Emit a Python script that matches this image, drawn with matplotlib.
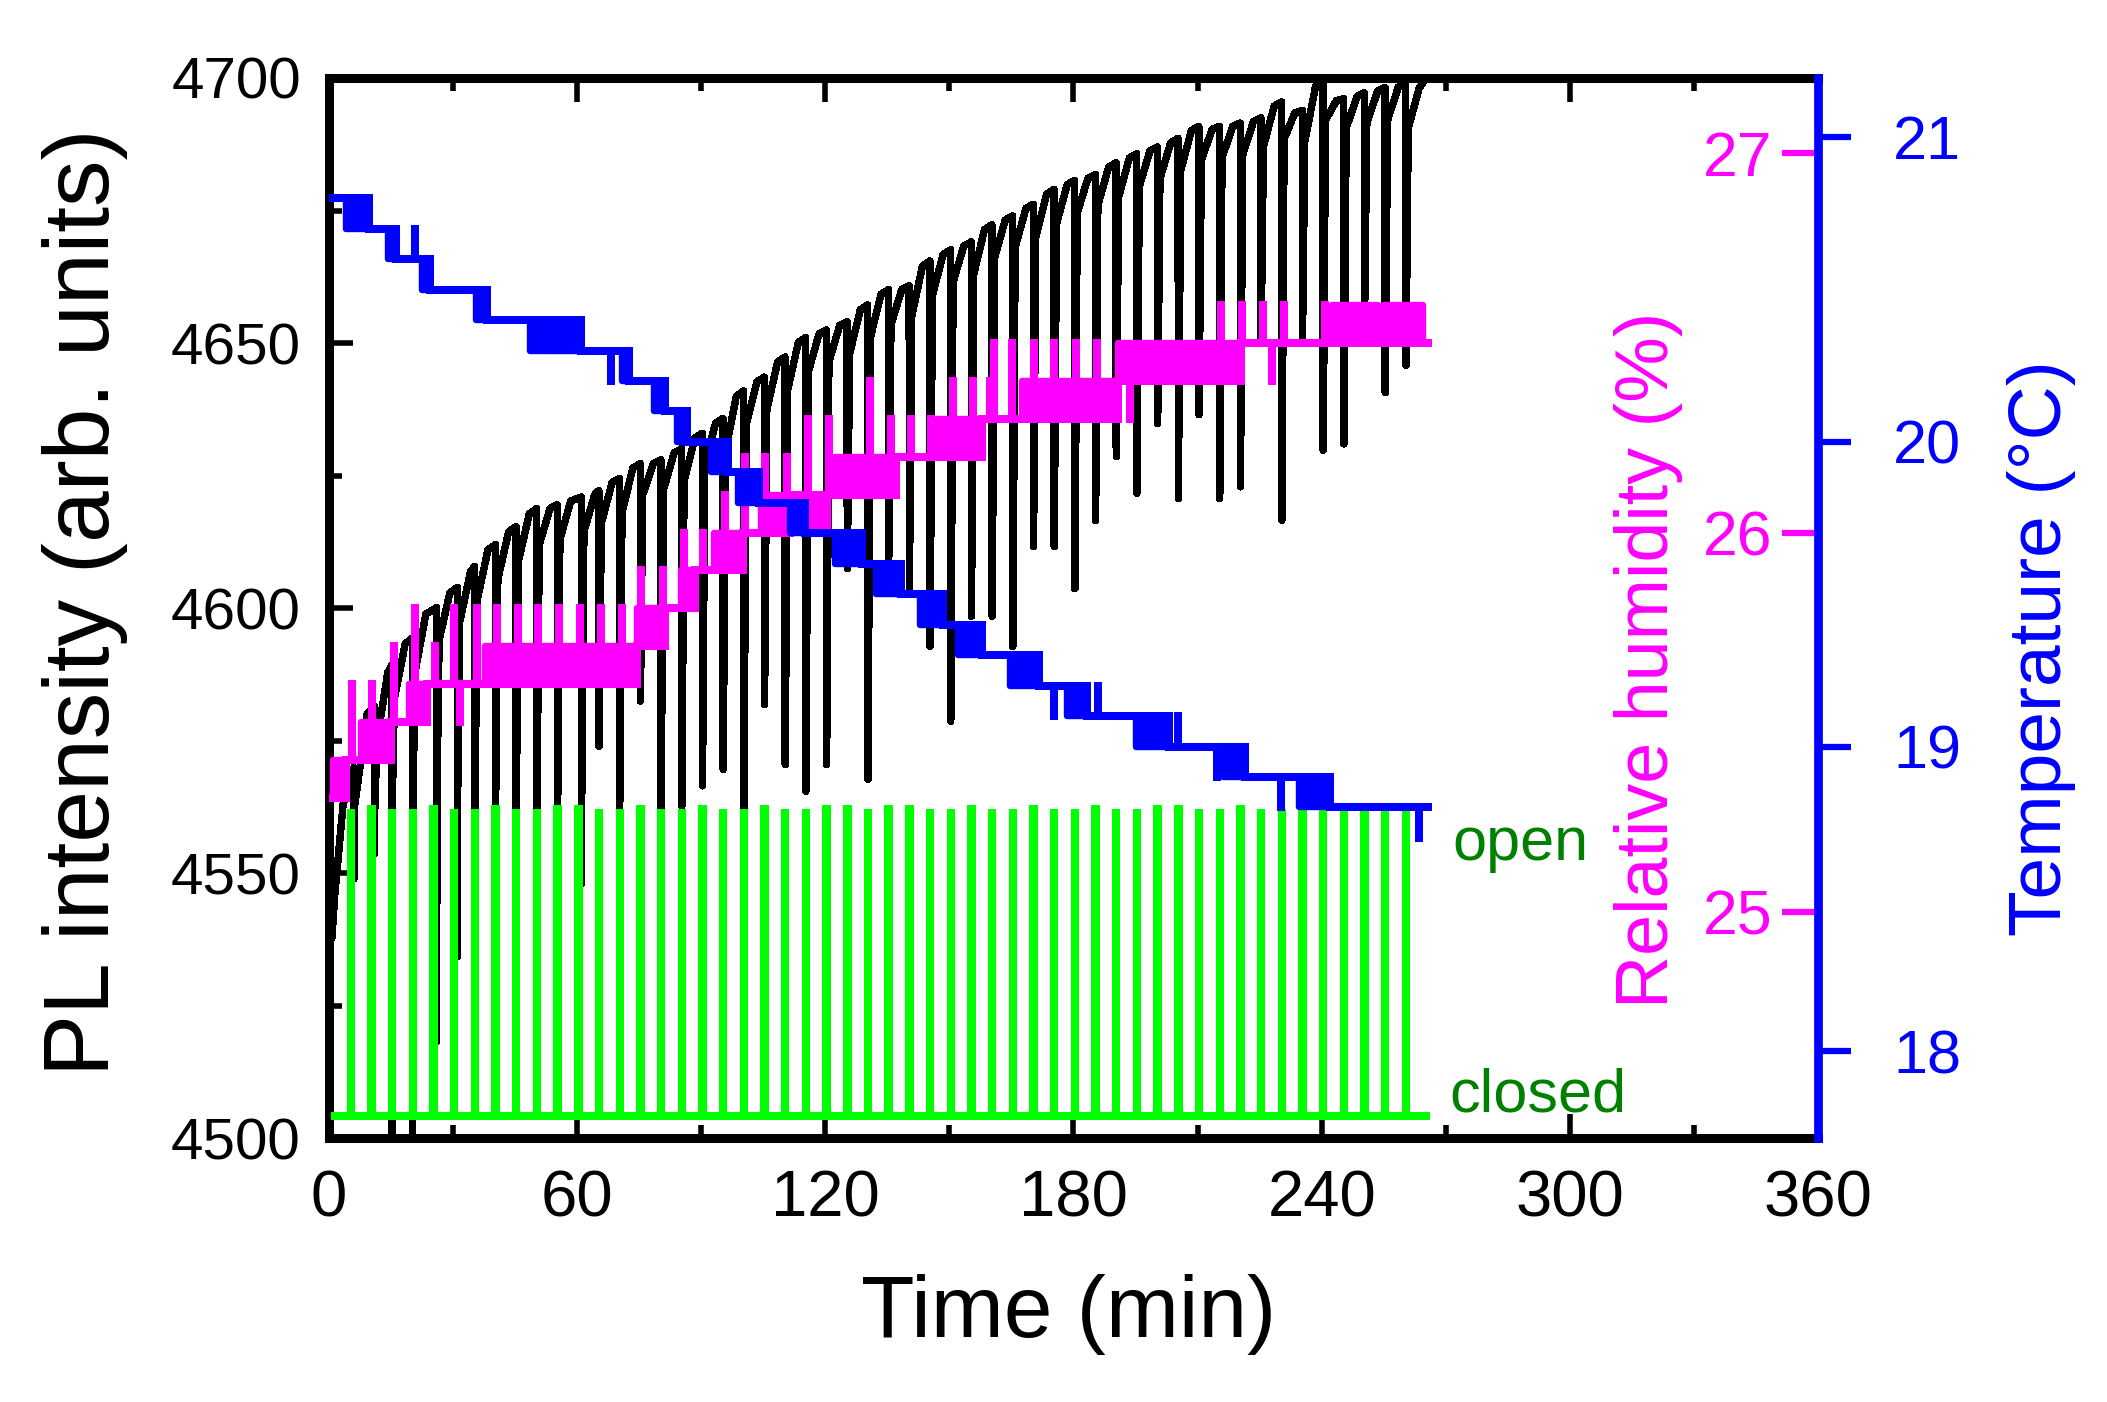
import matplotlib
matplotlib.use("Agg")
import matplotlib.pyplot as plt
from matplotlib.ticker import MultipleLocator, FixedLocator

plt.rcParams['font.family'] = ['Liberation Sans', 'DejaVu Sans']

# ------------------------------------------------------------------ data
# shutter (green): opening instants (min) and span of the record
shutter_open_min = [5.3, 10.3, 15.3, 20.3, 25.3, 30.3, 35.3, 40.3, 45.3, 50.3,
                    55.3, 60.3, 65.3, 70.3, 75.3, 80.3, 85.3, 90.3, 95.3, 100.3,
                    105.3, 110.3, 115.3, 120.3, 125.3, 130.3, 135.3, 140.3, 145.3, 150.3,
                    155.3, 160.3, 165.3, 170.3, 175.3, 180.3, 185.3, 190.3, 195.3, 200.3,
                    205.3, 210.3, 215.3, 220.3, 225.3, 230.3, 235.3, 240.3, 245.3, 250.3,
                    255.3, 260.3]
shutter_span_min = [1.5, 265.3]

# PL intensity (black): for each shutter event the value just before the dip,
# the bottom of the dip, the value right after it and the value ~3 min later
pl_dip_min = [6.1, 11.1, 15.3, 20.3, 26.1, 31.1, 35.3, 40.3, 45.3, 50.3,
              55.3, 61.1, 65.3, 70.3, 75.3, 80.3, 85.3, 90.3, 95.3, 100.3,
              105.3, 110.3, 115.3, 120.3, 125.3, 130.3, 135.3, 140.3, 145.3, 150.3,
              155.3, 160.3, 165.3, 170.3, 175.3, 180.3, 185.3, 190.3, 195.3, 200.3,
              205.3, 210.3, 215.3, 220.3, 225.3, 230.3, 235.3, 240.3, 245.3, 250.3,
              255.3, 260.3]
pl_peak = [4570.0, 4581.5, 4589.3, 4594.4, 4600.1, 4603.9, 4607.9, 4612.0, 4615.4, 4618.8,
           4619.5, 4621.0, 4622.2, 4624.5, 4627.3, 4628.0, 4630.1, 4633.0, 4635.8, 4641.0,
           4643.6, 4647.4, 4651.1, 4652.5, 4654.0, 4657.2, 4660.1, 4660.8, 4665.5, 4667.6,
           4669.1, 4672.3, 4674.0, 4676.2, 4679.0, 4680.7, 4681.8, 4684.0, 4685.7, 4687.0,
           4688.6, 4690.9, 4690.9, 4691.5, 4692.5, 4695.5, 4693.9, 4699.5, 4696.1, 4697.2,
           4698.2, 4699.0]
pl_dip = [4549.0, 4553.7, 4495.0, 4495.0, 4518.3, 4534.3, 4562.0, 4562.0, 4562.0, 4562.0,
          4562.0, 4548.0, 4574.0, 4562.0, 4582.5, 4562.0, 4562.7, 4566.5, 4569.6, 4561.5,
          4581.8, 4570.5, 4565.5, 4570.5, 4607.5, 4567.7, 4608.2, 4603.5, 4592.8, 4578.7,
          4598.5, 4598.5, 4592.8, 4611.6, 4611.6, 4603.7, 4616.6, 4628.6, 4621.7, 4634.8,
          4620.7, 4636.5, 4620.7, 4622.9, 4650.5, 4616.6, 4650.8, 4629.8, 4631.0, 4655.0,
          4640.7, 4645.8]
pl_after = [4565.0, 4575.0, 4583.0, 4588.0, 4594.0, 4597.5, 4601.5, 4605.5, 4609.0, 4612.0,
            4613.0, 4614.5, 4616.0, 4618.0, 4621.4, 4622.3, 4624.0, 4627.0, 4629.5, 4634.5,
            4637.5, 4641.0, 4644.5, 4646.5, 4648.0, 4651.0, 4653.5, 4655.0, 4659.0, 4661.5,
            4663.0, 4666.0, 4668.0, 4670.0, 4672.5, 4674.5, 4676.0, 4677.5, 4679.5, 4681.0,
            4682.5, 4684.5, 4685.0, 4685.5, 4687.0, 4688.5, 4688.0, 4692.0, 4690.5, 4691.5,
            4692.0, 4690.5]
pl_recover = [4580.0, 4587.9, 4593.3, 4598.9, 4602.9, 4606.9, 4611.0, 4614.4, 4617.8, 4618.8,
              4620.2, 4621.4, 4623.7, 4626.4, 4627.3, 4629.3, 4632.1, 4634.9, 4639.9, 4642.7,
              4646.4, 4650.1, 4651.7, 4653.3, 4656.3, 4659.2, 4660.1, 4664.5, 4666.7, 4668.3,
              4671.4, 4673.2, 4675.4, 4678.1, 4679.9, 4681.1, 4683.2, 4684.9, 4686.3, 4687.8,
              4690.1, 4690.3, 4690.9, 4691.8, 4694.7, 4693.4, 4698.4, 4695.7, 4696.5, 4697.5,
              4698.3, 4698.0]
pl_start_min = [0.8, 1.5, 3.5]
pl_start = [4538.0, 4546.0, 4563.0]
pl_end_min = [266.0]
pl_end = [4701.0]

# relative humidity (magenta, %)
rh_step_min = [1.1, 4.1, 15.0, 23.7, 74.6, 81.4, 88.5, 100.2, 111.4, 137.2, 158.0, 190.8, 220.6, 265.7]
rh_step_val = [25.3, 25.4, 25.5, 25.6, 25.7, 25.8, 25.9, 26.0, 26.1, 26.2, 26.3, 26.4, 26.5, 26.5]
rh_blk_start = [1.1, 7.8, 19.4, 37.8, 50.0, 74.6, 85.1, 93.2, 104.6, 115.1, 122.3, 147.0, 167.5, 190.8, 242.6, 255.0]
rh_blk_end = [4.1, 15.0, 23.7, 49.2, 74.6, 81.4, 88.5, 100.2, 111.4, 120.7, 137.2, 158.0, 190.8, 220.6, 253.5, 264.4]
rh_blk_lo = [25.3, 25.4, 25.5, 25.6, 25.6, 25.7, 25.8, 25.9, 26.0, 26.0, 26.1, 26.2, 26.3, 26.4, 26.5, 26.5]
rh_blk_hi = [25.4, 25.5, 25.6, 25.7, 25.7, 25.8, 25.9, 26.0, 26.1, 26.1, 26.2, 26.3, 26.4, 26.5, 26.6, 26.6]
rh_spk_min = [5.6, 10.5, 15.7, 20.9, 25.7, 30.3, 31.7, 35.8, 40.7, 45.7, 50.6, 55.7, 60.8, 65.8,
              70.8, 75.6, 80.7, 85.8, 90.5, 95.9, 100.7, 105.4, 110.7, 115.9, 120.9, 130.8,
              135.8, 140.7, 145.6, 150.8, 155.8, 159.8, 160.9, 165.2, 170.4, 175.4, 180.6,
              185.7, 193.7, 215.6, 220.7, 225.8, 228.0, 230.9, 240.8]
rh_spk_from = [25.4, 25.4, 25.5, 25.5, 25.6, 25.6, 25.6, 25.6, 25.7, 25.7, 25.7, 25.7, 25.7, 25.7,
               25.7, 25.8, 25.8, 25.9, 25.9, 26.0, 26.0, 26.1, 26.1, 26.1, 26.1, 26.2,
               26.2, 26.2, 26.2, 26.3, 26.3, 26.3, 26.3, 26.3, 26.4, 26.4, 26.4,
               26.4, 26.4, 26.5, 26.5, 26.5, 26.5, 26.5, 26.5]
rh_spk_to = [25.6, 25.6, 25.7, 25.8, 25.7, 25.8, 25.5, 25.8, 25.8, 25.8, 25.8, 25.8, 25.8, 25.8,
             25.8, 25.9, 25.9, 26.0, 26.0, 26.1, 26.2, 26.2, 26.2, 26.3, 26.3, 26.4,
             26.3, 26.3, 26.3, 26.4, 26.4, 26.4, 26.5, 26.5, 26.5, 26.5, 26.5,
             26.5, 26.3, 26.6, 26.6, 26.6, 26.4, 26.6, 26.6]

# temperature (blue, deg C)
t_step_min = [1.1, 9.8, 16.2, 24.5, 38.3, 60.9, 72.6, 81.4, 86.5, 96.6, 104.0, 115.1, 128.8,
              138.3, 148.5, 157.9, 171.7, 183.3, 203.1, 221.4, 242.0, 265.7]
t_step_val = [20.8, 20.7, 20.6, 20.5, 20.4, 20.3, 20.2, 20.1, 20.0, 19.9, 19.8, 19.7, 19.6,
              19.5, 19.4, 19.3, 19.2, 19.1, 19.0, 18.9, 18.8, 18.8]
t_blk_start = [4.2, 14.4, 22.5, 35.5, 48.6, 70.8, 78.6, 84.3, 92.5, 99.0, 111.5, 122.3, 132.4,
               142.9, 152.1, 164.6, 178.4, 195.2, 216.2, 234.5]
t_blk_end = [9.8, 16.2, 24.5, 38.3, 60.9, 72.6, 81.4, 86.5, 96.6, 104.0, 115.1, 128.8, 138.3,
             148.5, 157.9, 171.7, 183.3, 203.1, 221.4, 242.0]
t_blk_lo = [20.7, 20.6, 20.5, 20.4, 20.3, 20.2, 20.1, 20.0, 19.9, 19.8, 19.7, 19.6, 19.5,
            19.4, 19.3, 19.2, 19.1, 19.0, 18.9, 18.8]
t_blk_hi = [20.8, 20.7, 20.6, 20.5, 20.4, 20.3, 20.2, 20.1, 20.0, 19.9, 19.8, 19.7, 19.6,
            19.5, 19.4, 19.3, 19.2, 19.1, 19.0, 18.9]
t_spk_min = [20.9, 68.2, 175.4, 185.9, 205.2, 214.8, 230.2, 263.6]
t_spk_from = [20.6, 20.3, 19.2, 19.1, 19.0, 19.0, 18.9, 18.8]
t_spk_to = [20.7, 20.2, 19.1, 19.2, 19.1, 18.9, 18.8, 18.7]

x_ticks = [0, 60, 120, 180, 240, 300, 360]
pl_ticks = [4500, 4550, 4600, 4650, 4700]
rh_ticks = [25, 26, 27]
t_ticks = [18, 19, 20, 21]

# ------------------------------------------------------------------ style
BLACK, GREEN, MAGENTA, BLUE, DKGREEN = 'black', '#00FF00', '#FF00FF', '#0000FF', '#008000'
LW = 4.6
SHUT_CLOSED_PL, SHUT_OPEN_PL = 4504.3, 4562.2
DIP_BAR = 0.6      # horizontal width (min) of the return stroke of a dip
RECOVER_AT = 3.2   # minutes after a dip where pl_recover is reached

fig = plt.figure(figsize=(21.07, 14.02), dpi=100)
ax = fig.add_axes([0.15596, 0.18795, 0.70702, 0.75642])
ax_sh = ax.twinx()
ax_rh = ax.twinx()
ax_t = ax.twinx()

# ---- PL trace
pt = list(pl_start_min)
pv = list(pl_start)
for tk, pk, mk, rk, qk in zip(pl_dip_min, pl_peak, pl_dip, pl_after, pl_recover):
    knee = max(mk, SHUT_OPEN_PL)
    pt += [tk, tk + 0.03, tk + 0.06, tk + DIP_BAR, tk + RECOVER_AT]
    pv += [pk, mk, knee, rk, qk]
pt += pl_end_min
pv += pl_end
ax.plot(pt, pv, color=BLACK, lw=4.6, solid_joinstyle='round', antialiased=False)

ax.set_xlim(0, 360)
ax.set_ylim(4500, 4700)

# ---- shutter trace
st = [shutter_span_min[0]]
sv = [0]
for g in shutter_open_min:
    st += [g, g, g + 0.1, g + 0.1]
    sv += [0, 1, 1, 0]
st.append(shutter_span_min[1])
sv.append(0)
ax_sh.plot(st, sv, color=GREEN, lw=4.4, solid_joinstyle='miter', antialiased=False)
span = SHUT_OPEN_PL - SHUT_CLOSED_PL
ax_sh.set_ylim((4500 - SHUT_CLOSED_PL) / span, (4700 - SHUT_CLOSED_PL) / span)
ax_sh.set_yticks([])
ax.text(271.6, 4552.6, 'open', color=DKGREEN, fontsize=44, ha='left', va='baseline')
ax.text(270.8, 4505.0, 'closed', color=DKGREEN, fontsize=44, ha='left', va='baseline')


def draw_series(a, smin, sval, b0, b1, blo, bhi, k_t, k_f, k_to, color):
    a.step(smin, sval, where='post', color=color, lw=LW, solid_joinstyle='miter',
           antialiased=False)
    for x0, x1, lo, hi in zip(b0, b1, blo, bhi):
        a.fill_between([x0, x1], [lo, lo], [hi, hi], facecolor=color,
                       edgecolor=color, lw=LW, antialiased=False)
    a.vlines(k_t, k_f, k_to, colors=color, lw=LW, capstyle='projecting',
             antialiased=False)


draw_series(ax_rh, rh_step_min, rh_step_val, rh_blk_start, rh_blk_end, rh_blk_lo, rh_blk_hi,
            rh_spk_min, rh_spk_from, rh_spk_to, MAGENTA)
draw_series(ax_t, t_step_min, t_step_val, t_blk_start, t_blk_end, t_blk_lo, t_blk_hi,
            t_spk_min, t_spk_from, t_spk_to, BLUE)
ax_rh.set_ylim(24.403, 27.198)
ax_t.set_ylim(17.713, 21.195)

# ---- main axes ticks / spines
ax.xaxis.set_major_locator(FixedLocator(x_ticks))
ax.xaxis.set_minor_locator(MultipleLocator(30))
ax.yaxis.set_major_locator(FixedLocator(pl_ticks))
ax.yaxis.set_minor_locator(MultipleLocator(25))
ax.tick_params(axis='both', which='both', direction='in', top=True, right=False,
               width=4, colors=BLACK)
ax.tick_params(axis='both', which='major', length=17)
ax.tick_params(axis='both', which='minor', length=9.5)
ax.tick_params(axis='x', which='major', labelsize=47, pad=22)
ax.tick_params(axis='y', which='major', labelsize=42, pad=20)
for s in ['left', 'bottom', 'top']:
    ax.spines[s].set_linewidth(6.5)
    ax.spines[s].set_color(BLACK)
ax.spines['right'].set_visible(False)

for a in (ax_sh, ax_rh, ax_t):
    for s in a.spines.values():
        s.set_visible(False)
ax_t.spines['right'].set_visible(True)
ax_t.spines['right'].set_color(BLUE)
ax_t.spines['right'].set_linewidth(6.3)

ax_rh.yaxis.set_major_locator(FixedLocator(rh_ticks))
ax_rh.yaxis.set_minor_locator(FixedLocator([]))
ax_rh.tick_params(axis='y', which='major', direction='in', length=26, width=4.5,
                  color=MAGENTA, labelcolor=MAGENTA, labelsize=45, pad=-33)
for tk in ax_rh.yaxis.get_major_ticks():
    tk.label2.set_horizontalalignment('right')

ax_t.yaxis.set_major_locator(FixedLocator(t_ticks))
ax_t.yaxis.set_minor_locator(FixedLocator([]))
ax_t.tick_params(axis='y', which='major', direction='out', length=24, width=4.5,
                 color=BLUE, labelcolor=BLUE, labelsize=44, pad=30)

# ---- labels
ax.set_xlabel('Time (min)', fontsize=63, va='center')
ax.xaxis.set_label_coords(0.497, -0.166)
ax.set_ylabel('PL intensity (arb. units)', fontsize=67, va='center')
ax.yaxis.set_label_coords(-0.1638, 0.506)
ax_rh.set_ylabel('Relative humidity (%)', fontsize=53, color=MAGENTA, va='center', rotation=90)
ax_rh.yaxis.set_label_coords(0.886, 0.4516)
ax_t.set_ylabel('Temperature (°C)', fontsize=54, color=BLUE, va='center', rotation=90)
ax_t.yaxis.set_label_coords(1.150, 0.462)

fig.savefig('out.png', dpi=100)
